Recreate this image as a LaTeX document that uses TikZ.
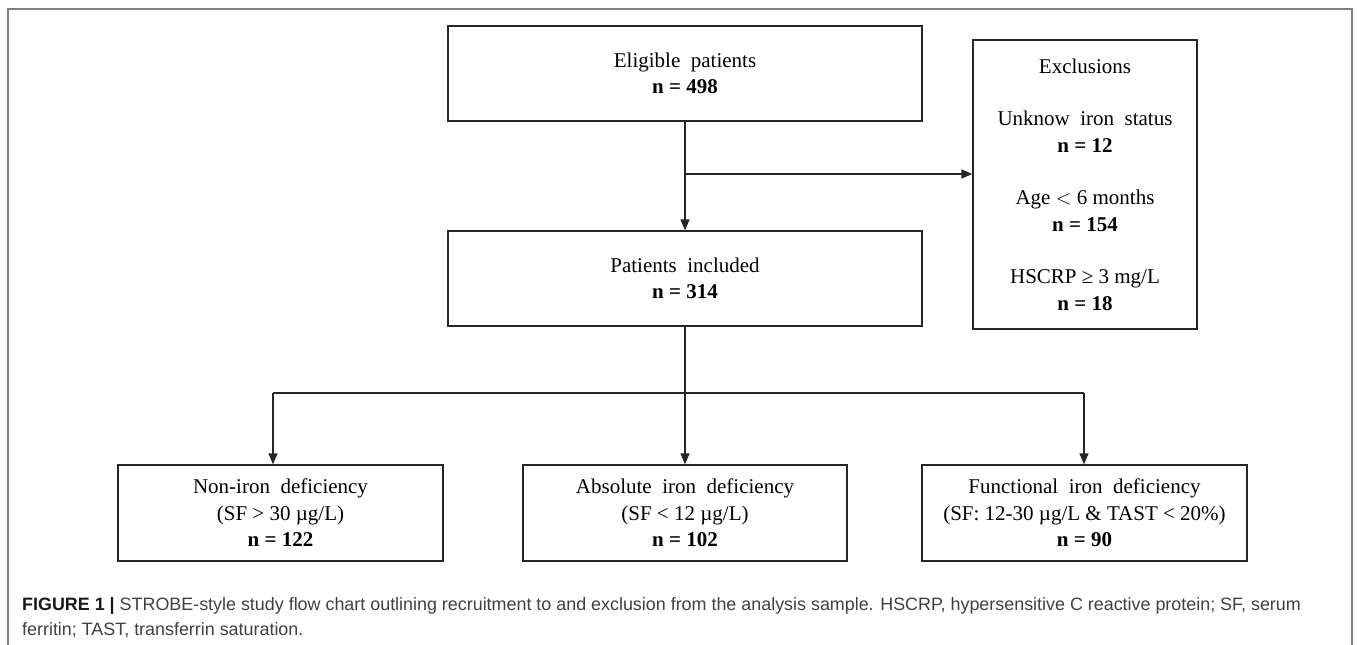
\documentclass[tikz,border=0pt]{standalone}
\usepackage{fontspec}
\setmainfont{Liberation Serif}
\newfontfamily\capfont{Liberation Sans}
\usetikzlibrary{arrows.meta}
\newcommand{\wsp}{\hspace{0.5em}}
\newcommand{\nval}[1]{\textbf{n = #1}}
\begin{document}
\begin{tikzpicture}[x=1pt,y=-1pt,
  box/.style={draw=black!85,line width=1.3pt,align=center,inner sep=0pt,
    font=\fontsize{21}{26.5}\selectfont},
  ln/.style={draw=black!85,line width=1.3pt},
  arr/.style={ln,-{Triangle[length=11pt,width=9pt]}},
  frame/.style={draw=black!50,line width=1.8pt}]
\useasboundingbox (0,0) rectangle (1358,645);
% outer frame (open at bottom)
\draw[frame] (8,645) -- (8,9) -- (1352,9) -- (1352,645);
% boxes
\node[box,minimum width=474pt,minimum height=95pt] (elig) at (685,73.5)
  {Eligible\wsp patients\\\nval{498}};
\node[box,minimum width=474pt,minimum height=95pt] (incl) at (685,278.5)
  {Patients\wsp included\\\nval{314}};
\node[box,minimum width=224pt,minimum height=289pt] (excl) at (1085,184.5)
  {Exclusions\\[26pt]Unknow\wsp iron\wsp status\\\nval{12}\\[26pt]Age $<$ 6 months\\\nval{154}\\[26pt]HSCRP ≥ 3 mg/L\\\nval{18}};
\node[box,minimum width=325pt,minimum height=96pt] (nonid) at (280.5,513)
  {Non-iron\wsp deficiency\\(SF > 30 µg/L)\\\nval{122}};
\node[box,minimum width=324pt,minimum height=96pt] (absid) at (685,513)
  {Absolute\wsp iron\wsp deficiency\\(SF < 12 µg/L)\\\nval{102}};
\node[box,minimum width=325pt,minimum height=96pt] (funcid) at (1084.5,513)
  {Functional\wsp iron\wsp deficiency\\(SF: 12-30 µg/L \& TAST < 20\%)\\\nval{90}};
% connectors
\coordinate (br) at (685,174);
\coordinate (bj) at (685,393);
\coordinate (bl) at (273,393);
\coordinate (brr) at (1084,393);
\draw[arr] (elig.south) -- (incl.north);
\draw[arr] (br) -- (br -| excl.west);
\draw[ln] (incl.south) -- (bj);
\draw[ln] (bl) -- (brr);
\draw[arr] (bl) -- (bl |- nonid.north);
\draw[arr] (bj) -- (absid.north);
\draw[arr] (brr) -- (brr |- funcid.north);
% caption
\node[anchor=north west,inner sep=0pt,align=left,text=black!75,
  font=\capfont\fontsize{17.9}{25}\selectfont] (cap) at (22,597)
  {\textbf{\color{black!90}FIGURE 1 |} STROBE-style study flow chart outlining recruitment to and exclusion from the analysis sample. HSCRP, hypersensitive C reactive protein; SF, serum\\ferritin; TAST, transferrin saturation.};
\end{tikzpicture}
\end{document}
